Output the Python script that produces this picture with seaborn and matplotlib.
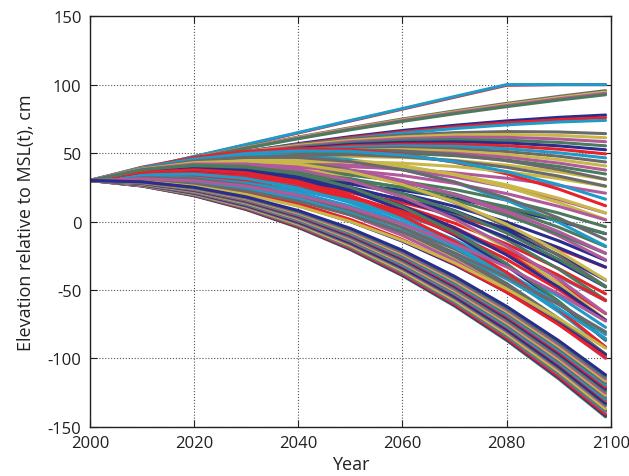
import pandas as pd
import seaborn as sns
import matplotlib.pyplot as plt

# every run starts at the same elevation in 2000; values below are read at the later years
years = [2000, 2010, 2020, 2030, 2040, 2050, 2060, 2070, 2080, 2090, 2099]
elev_start = 30.0

# runs that climb straight up and hit the 100 cm ceiling around 2080
runs_capped = [
    [38.7, 47.4, 56, 64.7, 73.4, 82.1, 90.8, 99.5, 100, 100],
    [38.8, 47.5, 56.3, 65, 73.8, 82.5, 91.3, 100, 100, 100],
]
# near-linear rise to ~75-95 cm
runs_high = [
    [38.6, 46.7, 54.4, 61.7, 68.5, 74.9, 80.8, 86.3, 91.4, 95.6],
    [38.5, 46.5, 54.1, 61.3, 68, 74.3, 80.1, 85.5, 90.5, 94.6],
    [38.4, 46.3, 53.8, 60.9, 67.5, 73.7, 79.4, 84.7, 89.6, 93.6],
    [38.3, 46.1, 53.5, 60.5, 67, 73.1, 78.7, 83.9, 88.7, 92.6],
    [37.7, 44.7, 51.1, 56.9, 62, 66.5, 70.3, 73.5, 76.1, 77.8],
    [37.6, 44.5, 50.7, 56.3, 61.3, 65.5, 69.1, 72.1, 74.4, 75.9],
    [37.5, 44.2, 50.3, 55.8, 60.5, 64.6, 67.9, 70.6, 72.7, 73.9],
]
# runs that level off between ~35 and 65 cm
runs_plateau = [
    [38.2, 45.3, 51.3, 56.3, 60.3, 63.1, 64.9, 65.7, 65.4, 64.2],
    [38.1, 45.0, 50.9, 55.6, 59.3, 61.8, 63.3, 63.6, 62.9, 61.2],
    [37.9, 44.7, 50.4, 54.9, 58.3, 60.5, 61.6, 61.5, 60.3, 58.3],
    [37.8, 44.4, 49.9, 54.2, 57.3, 59.2, 59.9, 59.4, 57.8, 55.3],
    [37.7, 44.2, 49.4, 53.4, 56.3, 57.8, 58.2, 57.4, 55.3, 52.4],
    [37.6, 43.9, 48.9, 52.7, 55.3, 56.5, 56.5, 55.3, 52.8, 49.4],
    [37.5, 43.6, 48.5, 52.0, 54.3, 55.2, 54.9, 53.2, 50.2, 46.5],
    [37.3, 43.3, 48.0, 51.3, 53.3, 53.9, 53.2, 51.1, 47.7, 43.5],
    [37.2, 43.0, 47.5, 50.6, 52.3, 52.6, 51.5, 49.0, 45.2, 40.6],
    [37.1, 42.8, 47.0, 49.8, 51.3, 51.2, 49.8, 47.0, 42.7, 37.6],
    [37.0, 42.5, 46.5, 49.1, 50.3, 49.9, 48.1, 44.9, 40.2, 34.7],
]
# rise first, then fall away
runs_peaked = [
    [32.3, 33.2, 32.7, 30.8, 27.5, 22.8, 16.7, 9.2, 0.3, -8.9],
    [32.1, 32.2, 30.5, 26.8, 21.3, 13.8, 4.5, -6.8, -20, -33.4],
    [31.8, 31.2, 28.2, 22.8, 15, 4.8, -7.8, -22.8, -40.2, -57.9],
    [31.6, 30.2, 26, 18.8, 8.8, -4.2, -20.1, -38.8, -60.5, -82.4],
    [31.4, 29.6, 24.6, 16.4, 5, -9.6, -27.4, -48.4, -72.6, -97.1],
    [34.4, 37.6, 39.6, 40.4, 40, 38.4, 35.6, 31.6, 26.4, 20.7],
    [34.2, 36.6, 37.4, 36.4, 33.8, 29.4, 23.4, 15.6, 6.2, -3.8],
    [33.9, 35.6, 35.1, 32.4, 27.5, 20.4, 11.1, -0.4, -14.1, -28.3],
    [33.7, 34.6, 32.9, 28.4, 21.3, 11.4, -1.2, -16.4, -34.4, -52.8],
    [33.4, 33.6, 30.6, 24.4, 15, 2.4, -13.4, -32.4, -54.6, -77.3],
    [33.2, 32.8, 28.8, 21.2, 10, -4.8, -23.2, -45.2, -70.8, -96.9],
    [36.3, 41.2, 44.7, 46.8, 47.5, 46.8, 44.7, 41.2, 36.3, 30.7],
    [36.1, 40.2, 42.5, 42.8, 41.3, 37.8, 32.5, 25.2, 16.1, 6.2],
    [35.8, 39.2, 40.2, 38.8, 35, 28.8, 20.2, 9.2, -4.2, -18.3],
    [35.6, 38.2, 38, 34.8, 28.8, 19.8, 8, -6.8, -24.5, -42.8],
    [35.3, 37.2, 35.7, 30.8, 22.5, 10.8, -4.3, -22.8, -44.7, -67.3],
    [35.1, 36.2, 33.5, 26.8, 16.3, 1.8, -16.6, -38.8, -65, -91.8],
    [38.1, 44.4, 48.9, 51.6, 52.5, 51.6, 48.9, 44.4, 38.1, 30.9],
    [37.8, 43.2, 46.2, 46.8, 45, 40.8, 34.2, 25.2, 13.8, 1.5],
    [37.5, 42, 43.5, 42, 37.5, 30, 19.5, 6, -10.5, -27.9],
    [37.2, 40.8, 40.8, 37.2, 30, 19.2, 4.8, -13.2, -34.8, -57.3],
    [36.9, 39.6, 38.1, 32.4, 22.5, 8.4, -9.9, -32.4, -59.1, -86.7],
    [39.7, 46.8, 51.3, 53.2, 52.5, 49.2, 43.3, 34.8, 23.7, 11.5],
    [39.4, 45.6, 48.6, 48.4, 45, 38.4, 28.6, 15.6, -0.6, -17.9],
    [39.1, 44.4, 45.9, 43.6, 37.5, 27.6, 13.9, -3.6, -24.9, -47.3],
    [38.9, 43.4, 43.7, 39.6, 31.3, 18.6, 1.7, -19.6, -45.2, -71.8],
    [31.6, 29.8, 24.8, 16.4, 4.8, -10.2, -28.5, -50, -74.9, -100],
    [33.2, 34.8, 34.8, 33.2, 30, 25.2, 18.8, 10.8, 1.2, -8.8],
    [33, 33.8, 32.6, 29.2, 23.8, 16.2, 6.6, -5.2, -19.1, -33.3],
    [32.7, 32.8, 30.3, 25.2, 17.5, 7.2, -5.7, -21.2, -39.3, -57.8],
    [32.5, 31.8, 28.1, 21.2, 11.3, -1.8, -18, -37.2, -59.6, -82.3],
    [32.3, 31.2, 26.7, 18.8, 7.5, -7.2, -25.3, -46.8, -71.7, -97],
    [35.4, 39.4, 42.2, 43.6, 43.8, 42.6, 40.2, 36.4, 31.4, 25.7],
    [35.1, 38.4, 39.9, 39.6, 37.5, 33.6, 27.9, 20.4, 11.1, 1.2],
    [34.9, 37.4, 37.7, 35.6, 31.3, 24.6, 15.7, 4.4, -9.2, -23.3],
    [34.6, 36.4, 35.4, 31.6, 25, 15.6, 3.4, -11.6, -29.4, -47.8],
    [34.4, 35.4, 33.2, 27.6, 18.8, 6.6, -8.9, -27.6, -49.7, -72.3],
    [34.2, 34.6, 31.4, 24.4, 13.8, -0.6, -18.7, -40.4, -65.9, -91.9],
    [37.2, 42.6, 46.4, 48.4, 48.8, 47.4, 44.4, 39.6, 33.2, 25.9],
    [37, 41.8, 44.6, 45.2, 43.8, 40.2, 34.6, 26.8, 17, 6.3],
    [36.7, 40.6, 41.9, 40.4, 36.3, 29.4, 19.9, 7.6, -7.4, -23.1],
    [36.4, 39.6, 39.6, 36.4, 30, 20.4, 7.6, -8.4, -27.6, -47.6],
    [36.2, 38.6, 37.4, 32.4, 23.8, 11.4, -4.7, -24.4, -47.9, -72.1],
    [36, 37.8, 35.6, 29.2, 18.8, 4.2, -14.5, -37.2, -64.1, -91.7],
    [38.9, 45.4, 49.7, 51.6, 51.3, 48.6, 43.7, 36.4, 26.9, 16.3],
    [38.6, 44.2, 47, 46.8, 43.8, 37.8, 29, 17.2, 2.6, -13.1],
    [38.3, 43, 44.3, 42, 36.3, 27, 14.3, -2, -21.8, -42.5],
    [38, 42, 42, 38, 30, 18, 2, -18, -42, -67],
    [37.8, 41.2, 40.2, 34.8, 25, 10.8, -7.8, -30.8, -58.2, -86.6],
    [29.6, 26.4, 20.4, 11.6, 0, -14.4, -31.6, -51.6, -74.4, -97.3],
    [30.3, 27.6, 21.9, 13.2, 1.5, -13.2, -30.9, -51.6, -75.3, -99.2],
    [30.8, 28.8, 24, 16.4, 6, -7.2, -23.2, -42, -63.6, -85.4],
    [30, 27.4, 22.4, 14.8, 4.8, -7.8, -22.9, -40.4, -60.5, -80.6],
    [29.2, 25.8, 19.8, 11.2, 0, -13.8, -30.2, -49.2, -70.8, -92.5],
    [31.2, 29.8, 25.8, 19.2, 10, -1.8, -16.2, -33.2, -52.8, -72.7],
]
# steady decline, the lower band ending below -110 cm
runs_falling = [
    [25.9, 18.8, 8.7, -4.4, -20.5, -39.6, -61.7, -86.8, -114.9, -142.7],
    [26, 19, 9, -4, -20, -39, -61, -86, -114, -141.8],
    [26.1, 19.2, 9.3, -3.6, -19.5, -38.4, -60.3, -85.2, -113.1, -140.8],
    [26.3, 19.6, 9.9, -2.8, -18.5, -37.2, -58.9, -83.6, -111.3, -138.8],
    [26.4, 19.8, 10.2, -2.4, -18, -36.6, -58.2, -82.8, -110.4, -137.8],
    [26.5, 20, 10.5, -2, -17.5, -36, -57.5, -82, -109.5, -136.8],
    [26.7, 20.4, 11.1, -1.2, -16.5, -34.8, -56.1, -80.4, -107.7, -134.8],
    [26.8, 20.6, 11.4, -0.8, -16, -34.2, -55.4, -79.6, -106.8, -133.8],
    [26.9, 20.8, 11.7, -0.4, -15.5, -33.6, -54.7, -78.8, -105.9, -132.8],
    [27.1, 21.2, 12.3, 0.4, -14.5, -32.4, -53.3, -77.2, -104.1, -130.9],
    [27.2, 21.4, 12.6, 0.8, -14, -31.8, -52.6, -76.4, -103.2, -129.9],
    [27.4, 21.7, 13.1, 1.4, -13.3, -30.9, -51.6, -75.2, -101.9, -128.4],
    [27.5, 22, 13.5, 2, -12.5, -30, -50.5, -74, -100.5, -126.9],
    [27.7, 22.3, 14, 2.6, -11.8, -29.1, -49.5, -72.8, -99.2, -125.4],
    [27.8, 22.6, 14.4, 3.2, -11, -28.2, -48.4, -71.6, -97.8, -123.9],
    [28, 22.9, 14.9, 3.8, -10.3, -27.3, -47.4, -70.4, -96.5, -122.4],
    [28.1, 23.2, 15.3, 4.4, -9.5, -26.4, -46.3, -69.2, -95.1, -121],
    [28.3, 23.5, 15.8, 5, -8.8, -25.5, -45.3, -68, -93.8, -119.5],
    [28.4, 23.8, 16.2, 5.6, -8, -24.6, -44.2, -66.8, -92.4, -118],
    [28.6, 24.1, 16.7, 6.2, -7.3, -23.7, -43.2, -65.6, -91.1, -116.5],
    [28.7, 24.4, 17.1, 6.8, -6.5, -22.8, -42.1, -64.4, -89.7, -115],
    [28.9, 24.7, 17.6, 7.4, -5.8, -21.9, -41.1, -63.2, -88.4, -113.5],
    [29, 25, 18, 8, -5, -21, -40, -62, -87, -112],
]

line_colors = ['#e8222a', '#1f9ac9', '#6a6a6a', '#c9b74a', '#b05a9b', '#4c7a5e', '#2b2d8c']

# long table: one row per (run, year)
all_runs = runs_capped + runs_high + runs_plateau + runs_peaked + runs_falling
rows = []
for i, run in enumerate(all_runs):
    for yr, v in zip(years, [elev_start] + run):
        rows.append({'run': f'run{i:03d}', 'year': yr, 'elev': v})
df = pd.DataFrame(rows)

sns.set_style('ticks')
plt.rcParams['font.family'] = ['Open Sans', 'DejaVu Sans']
plt.rcParams['axes.unicode_minus'] = False

fig, ax = plt.subplots(figsize=(6.29, 4.77), dpi=100)
fig.subplots_adjust(left=0.143, right=0.971, top=0.964, bottom=0.103)

pal = [line_colors[i % len(line_colors)] for i in range(len(all_runs))]
sns.lineplot(data=df, x='year', y='elev', hue='run', palette=pal, legend=False,
             estimator=None, linewidth=2.2, ax=ax)

ax.set_xlim(2000, 2100)
ax.set_ylim(-150, 150)
ax.set_xticks(range(2000, 2101, 20))
ax.set_yticks(range(-150, 151, 50))
ax.grid(True, linestyle=':', color='#555555', linewidth=0.8)
ax.tick_params(direction='in', top=True, right=True, length=5, labelsize=12,
               colors='#231f20', pad=6)
ax.set_xlabel('Year', fontsize=13, color='#231f20', labelpad=3)
ax.set_ylabel('Elevation relative to MSL(t), cm', fontsize=13, color='#231f20',
              labelpad=9)
for s in ax.spines.values():
    s.set_linewidth(1.0)
    s.set_color('#231f20')

fig.savefig('out.png', dpi=100)
